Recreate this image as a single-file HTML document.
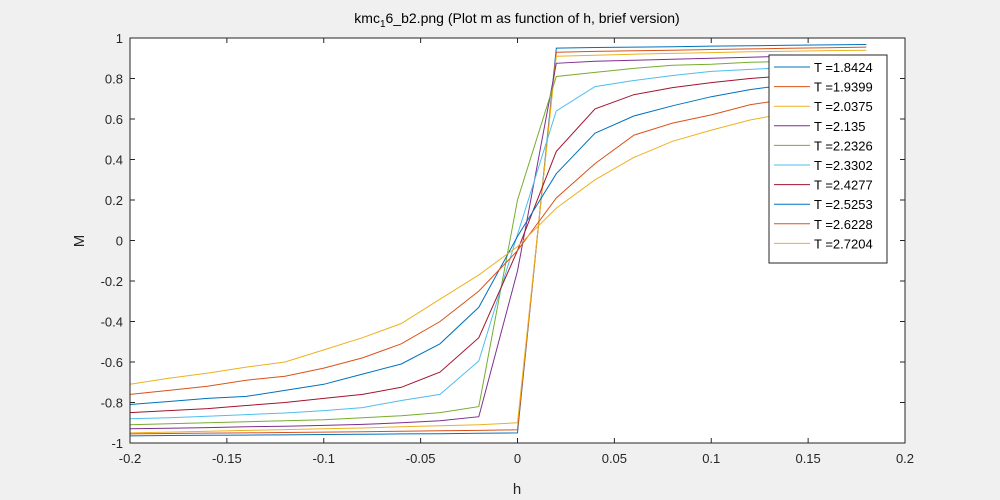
<!DOCTYPE html>
<html><head><meta charset="utf-8"><style>
body{margin:0;background:#f0f0f0;}
svg{display:block;font-family:"Liberation Sans",Arial,sans-serif;}
</style></head><body>
<svg id="chart" width="1000" height="500">
<rect x="0" y="0" width="1000" height="500" fill="#f0f0f0"/>
<rect x="130" y="38" width="775" height="405" fill="#fff"/>
<g id="grid"></g>
<g id="series"></g>
<rect x="130" y="38" width="775" height="405" fill="none" stroke="#262626" stroke-width="1"/>
<g id="ticks"></g>
<text x="517" y="23" text-anchor="middle" font-size="14" fill="#000">kmc<tspan font-size="10" dy="4">1</tspan><tspan dy="-4">6_b2.png (Plot m as function of h, brief version)</tspan></text>
<text x="517" y="494" text-anchor="middle" font-size="15" fill="#262626">h</text>
<text x="84" y="241" text-anchor="middle" font-size="15" fill="#262626" transform="rotate(-90 84 241)">M</text>
<g id="legend"></g>
</svg>
<script>
const hValues=[-0.2,-0.18,-0.16,-0.14,-0.12,-0.1,-0.08,-0.06,-0.04,-0.02,0,0.02,0.04,0.06,0.08,0.1,0.12,0.14,0.16,0.18];
const seriesLabels=["T =1.8424","T =1.9399","T =2.0375","T =2.135","T =2.2326","T =2.3302","T =2.4277","T =2.5253","T =2.6228","T =2.7204"];
const m1=[-0.965,-0.963,-0.962,-0.961,-0.96,-0.958,-0.957,-0.955,-0.954,-0.952,-0.95,0.95,0.953,0.955,0.957,0.96,0.962,0.964,0.966,0.968];
const m2=[-0.955,-0.953,-0.951,-0.95,-0.948,-0.946,-0.944,-0.942,-0.94,-0.938,-0.935,0.93,0.934,0.937,0.94,0.943,0.946,0.949,0.952,0.955];
const m3=[-0.95,-0.946,-0.942,-0.938,-0.934,-0.93,-0.926,-0.92,-0.915,-0.91,-0.9,0.91,0.915,0.92,0.924,0.928,0.932,0.935,0.938,0.94];
const m4=[-0.93,-0.927,-0.924,-0.92,-0.917,-0.913,-0.908,-0.9,-0.89,-0.87,-0.15,0.875,0.885,0.89,0.895,0.9,0.905,0.91,0.913,0.915];
const m5=[-0.91,-0.905,-0.9,-0.895,-0.89,-0.885,-0.875,-0.865,-0.85,-0.82,0.2,0.81,0.83,0.85,0.865,0.87,0.88,0.885,0.89,0.895];
const m6=[-0.88,-0.875,-0.868,-0.86,-0.852,-0.84,-0.825,-0.79,-0.76,-0.595,0.03,0.64,0.76,0.79,0.815,0.835,0.845,0.855,0.865,0.87];
const m7=[-0.85,-0.84,-0.83,-0.815,-0.8,-0.78,-0.76,-0.725,-0.65,-0.48,-0.05,0.44,0.65,0.72,0.755,0.78,0.8,0.815,0.83,0.84];
const m8=[-0.81,-0.795,-0.78,-0.77,-0.74,-0.71,-0.66,-0.61,-0.51,-0.33,0.02,0.33,0.53,0.615,0.665,0.71,0.745,0.77,0.79,0.8];
const m9=[-0.76,-0.74,-0.72,-0.69,-0.67,-0.63,-0.58,-0.51,-0.4,-0.25,-0.05,0.21,0.38,0.52,0.58,0.62,0.67,0.7,0.73,0.745];
const m10=[-0.71,-0.68,-0.655,-0.625,-0.6,-0.54,-0.48,-0.41,-0.29,-0.17,-0.03,0.16,0.3,0.41,0.49,0.545,0.595,0.63,0.66,0.68];
const allSeries=[m1,m2,m3,m4,m5,m6,m7,m8,m9,m10];
const xTicks=[-0.2,-0.15,-0.1,-0.05,0,0.05,0.1,0.15,0.2];
const xTickLabels=["-0.2","-0.15","-0.1","-0.05","0","0.05","0.1","0.15","0.2"];
const yTicks=[-1,-0.8,-0.6,-0.4,-0.2,0,0.2,0.4,0.6,0.8,1];
const yTickLabels=["-1","-0.8","-0.6","-0.4","-0.2","0","0.2","0.4","0.6","0.8","1"];
const colors=["#0072BD","#D95319","#EDB120","#7E2F8E","#77AC30","#4DBEEE","#A2142F","#0072BD","#D95319","#EDB120"];
const NS="http://www.w3.org/2000/svg";
const X0=130,X1=905,Y0=443,Y1=38;
function xs(v){return X0+(v+0.2)/0.4*(X1-X0);}
function ys(v){return Y0-(v+1)/2*(Y0-Y1);}
const ticks=document.getElementById('ticks');
xTicks.forEach((t,i)=>{
 const l=document.createElementNS(NS,'line');
 l.setAttribute('x1',xs(t));l.setAttribute('x2',xs(t));l.setAttribute('y1',Y0);l.setAttribute('y2',Y0-5);l.setAttribute('stroke','#262626');
 
 
 ticks.appendChild(l);
 const l2=document.createElementNS(NS,'line');
 l2.setAttribute('x1',xs(t));l2.setAttribute('x2',xs(t));l2.setAttribute('y1',Y1);l2.setAttribute('y2',Y1+5);l2.setAttribute('stroke','#262626');
 
 
 ticks.appendChild(l2);
 const tx=document.createElementNS(NS,'text');
 tx.setAttribute('x',xs(t));tx.setAttribute('y',Y0+20);tx.setAttribute('text-anchor','middle');tx.setAttribute('font-size','13');tx.setAttribute('fill','#262626');
 tx.textContent=xTickLabels[i];
 
 
 ticks.appendChild(tx);
});
yTicks.forEach((t,i)=>{
 const l=document.createElementNS(NS,'line');
 l.setAttribute('x1',X0);l.setAttribute('x2',X0+5);l.setAttribute('y1',ys(t));l.setAttribute('y2',ys(t));l.setAttribute('stroke','#262626');
 
 
 ticks.appendChild(l);
 const l2=document.createElementNS(NS,'line');
 l2.setAttribute('x1',X1-5);l2.setAttribute('x2',X1);l2.setAttribute('y1',ys(t));l2.setAttribute('y2',ys(t));l2.setAttribute('stroke','#262626');
 
 
 ticks.appendChild(l2);
 const tx=document.createElementNS(NS,'text');
 tx.setAttribute('x',X0-7);tx.setAttribute('y',ys(t)+5);tx.setAttribute('text-anchor','end');tx.setAttribute('font-size','13');tx.setAttribute('fill','#262626');
 tx.textContent=yTickLabels[i];
 
 
 ticks.appendChild(tx);
});
const sg=document.getElementById('series');
allSeries.forEach((s,k)=>{
 const p=document.createElementNS(NS,'polyline');
 p.setAttribute('points',s.map((v,i)=>xs(hValues[i]).toFixed(1)+','+ys(v).toFixed(1)).join(' '));
 p.setAttribute('fill','none');p.setAttribute('stroke',colors[k]);p.setAttribute('stroke-width','1');
 
 
 sg.appendChild(p);
});
const lg=document.getElementById('legend');
const box=document.createElementNS(NS,'rect');
box.setAttribute('x',769);box.setAttribute('y',55);box.setAttribute('width',118);box.setAttribute('height',208);
box.setAttribute('fill','#fff');box.setAttribute('stroke','#262626');


lg.appendChild(box);
seriesLabels.forEach((lab,k)=>{
 const y=67+k*19.6;
 const l=document.createElementNS(NS,'line');
 l.setAttribute('x1',774);l.setAttribute('x2',810);l.setAttribute('y1',y);l.setAttribute('y2',y);l.setAttribute('stroke',colors[k]);
 
 
 lg.appendChild(l);
 const t=document.createElementNS(NS,'text');
 t.setAttribute('x',814);t.setAttribute('y',y+5);t.setAttribute('font-size','13');t.setAttribute('fill','#000');
 t.textContent=lab;
 
 
 lg.appendChild(t);
});
</script>
</body></html>
